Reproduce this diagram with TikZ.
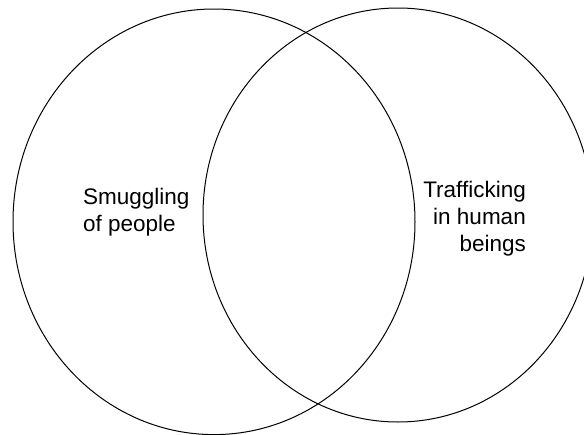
\documentclass[tikz,border=0pt]{standalone}
\usepackage{fontspec}
\setmainfont{Liberation Sans}
\begin{document}
\begin{tikzpicture}[x=1pt,y=-1pt,
  setring/.style={draw=black,line width=1pt},
  lbl/.style={inner sep=0pt,font=\fontsize{22.5}{27}\selectfont}]
\useasboundingbox (0,0) rectangle (584,434);
\clip (0,0) rectangle (584,434);
\fill[white] (0,0) rectangle (584,434);
\draw[setring] (214,221.8) ellipse [x radius=201, y radius=212.8];
\draw[setring] (398,215) ellipse [x radius=195, y radius=207];
\node[lbl,anchor=base west,align=left] (smuggling) at (83,231) {Smuggling\\of people};
\node[lbl,anchor=base east,align=right] (trafficking) at (526,251) {Trafficking\\in human\\beings};
\end{tikzpicture}
\end{document}
